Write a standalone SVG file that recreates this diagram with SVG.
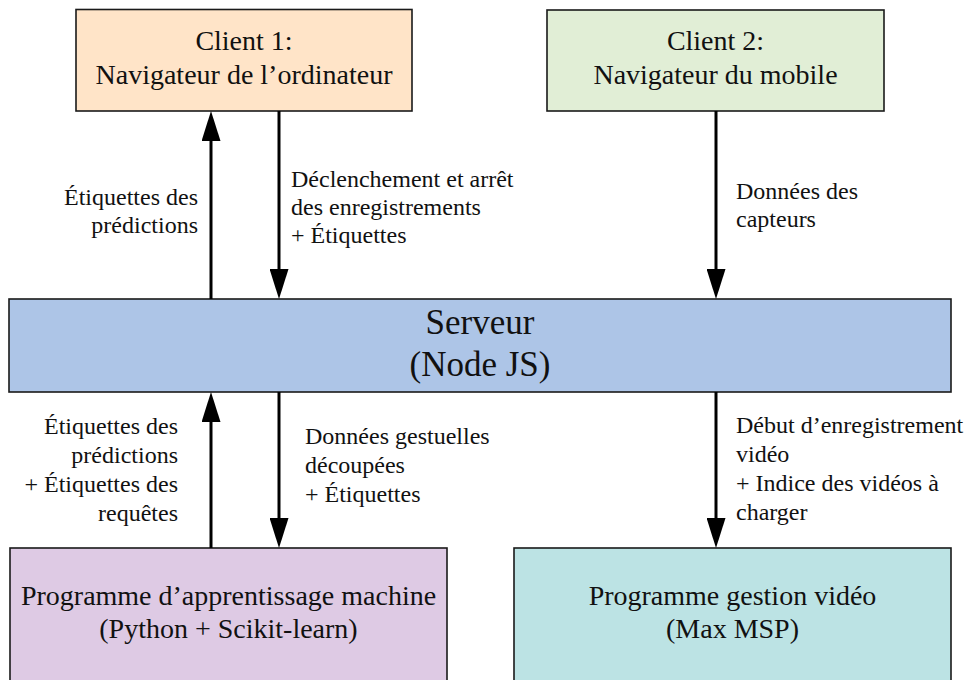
<svg xmlns="http://www.w3.org/2000/svg" width="966" height="680" viewBox="0 0 966 680" font-family="Liberation Serif, DejaVu Serif, serif">
  <defs>
    <marker id="head" markerUnits="userSpaceOnUse" markerWidth="30" markerHeight="19" refX="1" refY="9.5" orient="auto">
      <path d="M0,0 L30,9.5 L0,19 z" fill="#000"/>
    </marker>
    <style>
      .box { stroke: #1a1a1a; stroke-width: 1.6; }
      text { fill: #111; }
      .nt { font-size: 28px; text-anchor: middle; }
      .st { font-size: 35px; text-anchor: middle; }
      .lb { font-size: 24px; }
      .r { text-anchor: end; }
      .wire { stroke: #000; stroke-width: 3; fill: none; marker-end: url(#head); }
    </style>
  </defs>
  <rect width="966" height="680" fill="#fff"/>

  <g id="client1">
    <rect class="box" x="76" y="9.5" width="336" height="101.5" fill="#FFE4C8"/>
    <text class="nt" x="244" y="50">Client 1:</text>
    <text class="nt" x="244" y="84">Navigateur de l’ordinateur</text>
  </g>

  <g id="client2">
    <rect class="box" x="547" y="10" width="337" height="101" fill="#E1EED6"/>
    <text class="nt" x="715.5" y="50">Client 2:</text>
    <text class="nt" x="715.5" y="84">Navigateur du mobile</text>
  </g>

  <g id="serveur">
    <rect class="box" x="9" y="299" width="942" height="93" fill="#ADC5E7"/>
    <text class="st" x="480" y="334">Serveur</text>
    <text class="st" x="480" y="376">(Node JS)</text>
  </g>

  <g id="apprentissage">
    <rect class="box" x="10" y="548" width="437" height="150" fill="#DECAE4"/>
    <text class="nt" x="228.5" y="605">Programme d’apprentissage machine</text>
    <text class="nt" x="228.5" y="638">(Python + Scikit-learn)</text>
  </g>

  <g id="video">
    <rect class="box" x="514" y="548" width="437" height="150" fill="#BCE3E4"/>
    <text class="nt" x="732.5" y="605">Programme gestion vidéo</text>
    <text class="nt" x="732.5" y="638">(Max MSP)</text>
  </g>

  <g id="connectors">
    <line class="wire" x1="211" y1="299" x2="211" y2="140"/>
    <line class="wire" x1="279" y1="111" x2="279" y2="270"/>
    <line class="wire" x1="716" y1="111" x2="716" y2="270"/>
    <line class="wire" x1="211" y1="548" x2="211" y2="421"/>
    <line class="wire" x1="279" y1="392" x2="279" y2="519"/>
    <line class="wire" x1="716" y1="392" x2="716" y2="519"/>

    <text class="lb r" x="198" y="205">Étiquettes des</text>
    <text class="lb r" x="198" y="233">prédictions</text>

    <text class="lb" x="291" y="187">Déclenchement et arrêt</text>
    <text class="lb" x="291" y="215">des enregistrements</text>
    <text class="lb" x="291" y="243">+ Étiquettes</text>

    <text class="lb" x="736" y="199">Données des</text>
    <text class="lb" x="736" y="227">capteurs</text>

    <text class="lb r" x="178" y="434">Étiquettes des</text>
    <text class="lb r" x="178" y="463">prédictions</text>
    <text class="lb r" x="178" y="492">+ Étiquettes des</text>
    <text class="lb r" x="178" y="521">requêtes</text>

    <text class="lb" x="305" y="444">Données gestuelles</text>
    <text class="lb" x="305" y="473">découpées</text>
    <text class="lb" x="305" y="502">+ Étiquettes</text>

    <text class="lb" x="736" y="433">Début d’enregistrement</text>
    <text class="lb" x="736" y="462">vidéo</text>
    <text class="lb" x="736" y="491">+ Indice des vidéos à</text>
    <text class="lb" x="736" y="520">charger</text>
  </g>
</svg>
